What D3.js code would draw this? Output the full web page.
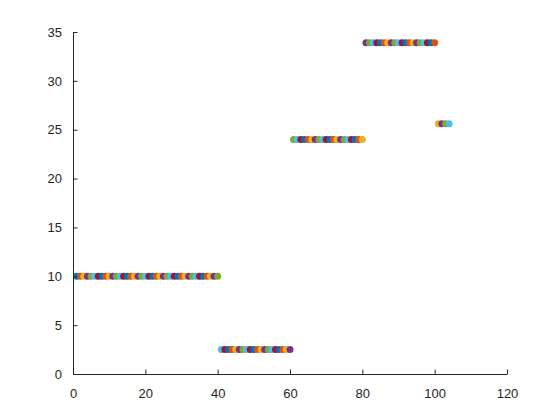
<!DOCTYPE html>
<html>
<head>
<meta charset="utf-8">
<script src="https://cdn.jsdelivr.net/npm/d3@7"></script>
<style>
html,body{margin:0;padding:0;background:#fff;}
svg{display:block;}
</style>
</head>
<body>
<svg id="chart" width="560" height="420"></svg>
<script>
// Data: x positions 1..104 with step values per segment
const segmentStarts = [1, 41, 61, 81, 101];
const segmentEnds   = [40, 60, 80, 100, 104];
const segmentValues = [10, 2.5, 24, 33.9, 25.6];
const xTicks = [0, 20, 40, 60, 80, 100, 120];
const yTicks = [0, 5, 10, 15, 20, 25, 30, 35];
const colorOrder = ["#0072BD", "#D95319", "#EDB120", "#7E2F8E", "#77AC30", "#4DBEEE", "#A2142F"];

const points = [];
segmentStarts.forEach((s, k) => {
  for (let xv = s; xv <= segmentEnds[k]; xv++) points.push({x: xv, y: segmentValues[k]});
});

const svg = d3.select("#chart");
const mLeft = 73, mRight = 507, mTop = 32, mBottom = 374;
const xScale = d3.scaleLinear().domain([0, 120]).range([mLeft, mRight]);
const yScale = d3.scaleLinear().domain([0, 35]).range([mBottom, mTop]);

const axisColor = "#262626";
const font = "'Liberation Sans', Arial, Helvetica, sans-serif";

// points
svg.append("g").selectAll("circle").data(points).enter().append("circle")
  .attr("cx", d => xScale(d.x))
  .attr("cy", d => yScale(d.y))
  .attr("r", 3.5)
  .attr("fill", (d, i) => colorOrder[i % colorOrder.length]);

// x axis
const gx = svg.append("g").attr("transform", `translate(0,${mBottom})`)
  .call(d3.axisBottom(xScale).tickValues(xTicks).tickSizeInner(-4.5).tickSizeOuter(0).tickPadding(12));
// y axis
const gy = svg.append("g").attr("transform", `translate(${mLeft},0)`)
  .call(d3.axisLeft(yScale).tickValues(yTicks).tickSizeInner(-4.5).tickSizeOuter(0).tickPadding(11));

[gx, gy].forEach(g => {
  g.select(".domain").attr("stroke", axisColor).attr("stroke-width", 1);
  g.selectAll(".tick line").attr("stroke", axisColor).attr("stroke-width", 1);
  g.selectAll(".tick text").attr("fill", axisColor)
    .style("font-family", font).style("font-size", "13px");
});
gx.selectAll(".tick text").attr("dy", "0.9em");
</script>
</body>
</html>
